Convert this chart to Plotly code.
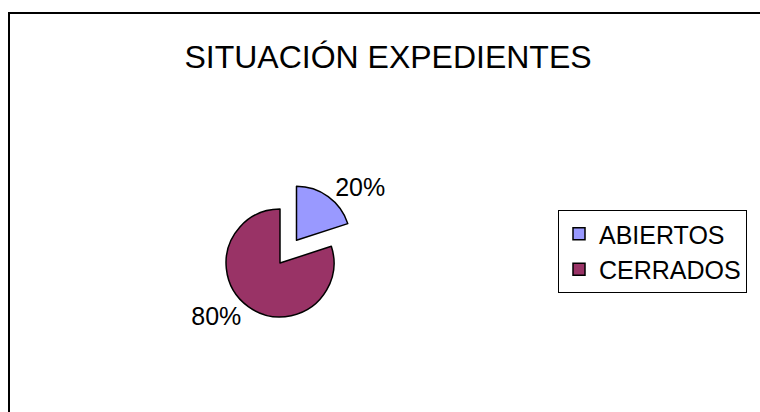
import plotly.graph_objects as go

# datos
estados = ["ABIERTOS", "CERRADOS"]
porcentajes = [20, 80]
colores = ["#9999FF", "#993366"]
separacion = [0.52, 0]

FUENTE = "Liberation Sans, Arial, sans-serif"
W, H = 760, 412

fig = go.Figure(
    go.Pie(
        labels=estados,
        values=porcentajes,
        sort=False,
        direction="clockwise",
        rotation=0,
        pull=separacion,
        marker=dict(colors=colores, line=dict(color="black", width=1.5)),
        textinfo="percent",
        textposition="outside",
        texttemplate="%{percent:.0%}",
        outsidetextfont=dict(family=FUENTE, size=25, color="black"),
        domain=dict(x=[198 / W, 362 / W], y=[67 / H, 231 / H]),
        hoverinfo="label+percent",
    )
)

# marco del gráfico (recortado a la derecha y abajo, como en el original)
fig.add_shape(
    type="rect",
    xref="paper",
    yref="paper",
    x0=9 / W,
    x1=1.05,
    y0=-0.05,
    y1=1 - 13 / H,
    line=dict(color="black", width=2),
    fillcolor="rgba(0,0,0,0)",
)

fig.update_layout(
    width=W,
    height=H,
    margin=dict(l=0, r=0, t=0, b=0),
    paper_bgcolor="white",
    plot_bgcolor="white",
    font=dict(family=FUENTE, color="black"),
    title=dict(
        text="SITUACIÓN EXPEDIENTES",
        font=dict(family=FUENTE, size=32, color="black"),
        x=388 / W,
        xanchor="center",
        y=1 - 57 / H,
        yanchor="middle",
    ),
    legend=dict(
        x=558 / W,
        xanchor="left",
        y=1 - 251.5 / H,
        yanchor="middle",
        font=dict(family=FUENTE, size=25, color="black"),
        bordercolor="black",
        borderwidth=1,
        bgcolor="white",
    ),
    showlegend=True,
)

# sin el margen por defecto del body, la figura ocupa toda la ventana
fig.write_html(
    "out.html",
    config={"displayModeBar": False},
    post_script="document.body.style.margin = '0'; document.body.style.overflow = 'hidden';",
)
